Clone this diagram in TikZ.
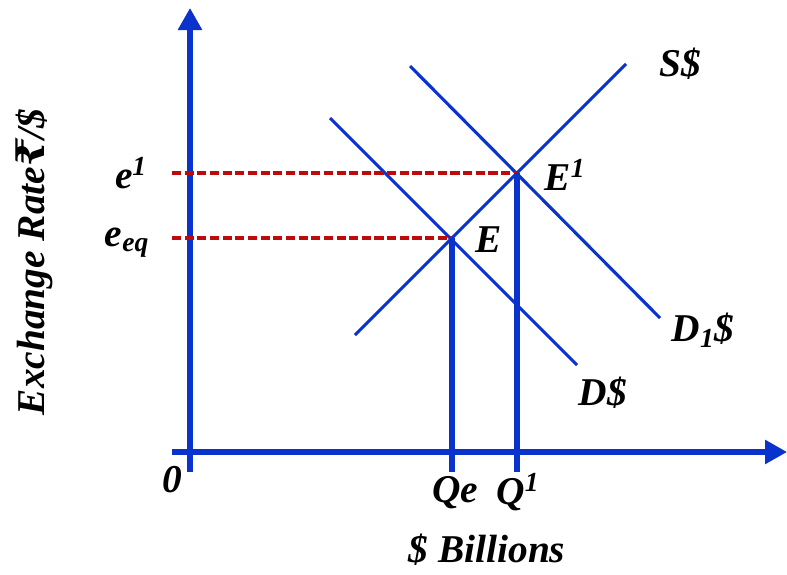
\documentclass[tikz,border=0pt]{standalone}
\usepackage{fontspec}
\setmainfont{Liberation Serif}
\newfontfamily\rupeefont{DejaVu Serif}
\usepackage{xcolor}
\usepackage{tikz}
\usetikzlibrary{arrows.meta,positioning}
\definecolor{axisblue}{RGB}{10,50,205}
\definecolor{dashred}{RGB}{190,10,10}
\tikzset{
  axisline/.style={draw=axisblue, line width=3.6pt, -{Triangle[width=0.58cm, length=0.55cm]}},
  dropline/.style={draw=axisblue, line width=3.6pt},
  curveline/.style={draw=axisblue, line width=2.2pt},
  levelline/.style={draw=dashred, line width=2.8pt, dash pattern=on 6.5pt off 2.5pt},
  lbl/.style={font=\fontsize{28}{30}\selectfont\bfseries\itshape, inner sep=0pt}
}

\begin{document}
\begin{tikzpicture}[x=0.025cm, y=-0.025cm]
  \useasboundingbox (0,0) rectangle (787,574);
  % axes
  \coordinate (o) at (190,452);
  \coordinate (ytop) at (190,8);
  \coordinate (ybot) at (190,472);
  \coordinate (xleft) at (172,452);
  \coordinate (xright) at (787,452);
  \draw[axisline] (ybot) -- (ytop);
  \draw[axisline] (xleft) -- (xright);
  % equilibrium points
  \coordinate (E) at (452,238);
  \coordinate (E1) at (517,173);
  \coordinate (qe) at (452,472);
  \coordinate (q1) at (517,472);
  \coordinate (ee) at (172,238);
  \coordinate (e1) at (172,173);
  % supply and demand curves
  \coordinate (s0) at (355,335); \coordinate (s1) at (626,64);
  \coordinate (d0) at (330,118); \coordinate (d1) at (577,365);
  \coordinate (dd0) at (410,66); \coordinate (dd1) at (660,318);
  \draw[curveline] (s0) -- (s1);
  \draw[curveline] (d0) -- (d1);
  \draw[curveline] (dd0) -- (dd1);
  \draw[levelline] (e1) -- (E1);
  \draw[levelline] (ee) -- (E);
  \draw[dropline] (E) -- (qe);
  \draw[dropline] (E1) -- (q1);
  % labels
  \node[lbl] (slbl) at (680,64) {S\$};
  \node[lbl] (e1lbl) at (565,175) {E\textsuperscript{1}};
  \node[lbl] (elbl) at (489,240) {E};
  \node[lbl] (dd1lbl) at (703,330) {D\textsubscript{1}\$};
  \node[lbl] (dlbl) at (603,393) {D\$};
  \node[lbl] (e1ylbl) at (131,173) {e\textsuperscript{1}};
  \node[lbl] (eeylbl) at (127,243) {e\textsubscript{eq}};
  \node[lbl] (zero) at (172,480) {0};
  \node[lbl] (qelbl) at (455,493) {Qe};
  \node[lbl] (q1lbl) at (518,492) {Q\textsuperscript{1}};
  \node[lbl] (xtitle) at (487,550) {\$ Billions};
  \node[lbl, rotate=90] (ytitle) at (34,262) {Exchange Rate{\rupeefont\bfseries\itshape ₹}/\$};
\end{tikzpicture}
\end{document}
